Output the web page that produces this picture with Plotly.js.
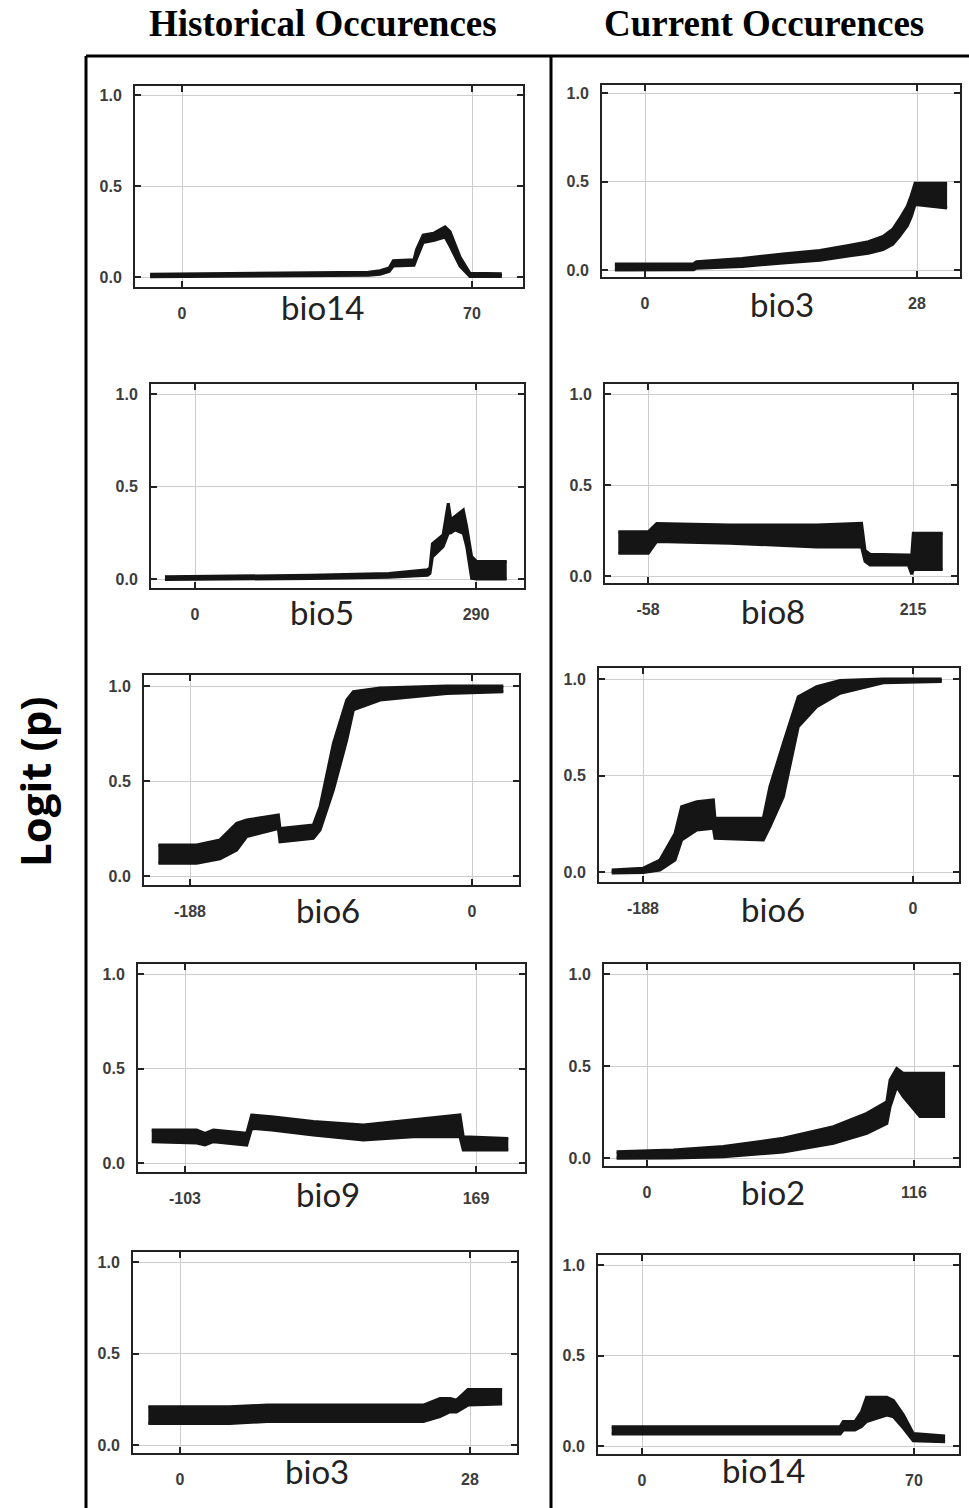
<!DOCTYPE html>
<html>
<head>
<meta charset="utf-8">
<script src="https://cdn.plot.ly/plotly-3.0.1.min.js"></script>
<style>html,body{margin:0;padding:0;background:#fff;}#chart{width:969px;height:1508px;}</style>
</head>
<body>
<div id="chart"></div>
<script>
// ---------- data ----------
const columnTitles = ["Historical Occurences", "Current Occurences"];
const yAxisTitle = "Logit (p)";
const yTicks = [0, 0.5, 1];
const yTickText = ["0.0", "0.5", "1.0"];

// Historical, row 1: bio14
const histBio14X  = [-7.7, 10, 30, 45, 47.8, 50, 51, 56, 56.6, 58.2, 60.7, 63.5, 64.7, 67.1, 69.5, 77.2];
const histBio14Lo = [0.002, 0.004, 0.007, 0.01, 0.015, 0.03, 0.06, 0.065, 0.1, 0.19, 0.2, 0.22, 0.17, 0.06, 0.003, 0.003];
const histBio14Hi = [0.015, 0.018, 0.022, 0.026, 0.035, 0.05, 0.09, 0.095, 0.15, 0.23, 0.24, 0.275, 0.25, 0.11, 0.02, 0.018];
// Current, row 1: bio3
const curBio3X  = [-3.1, 5, 5.3, 10, 14.2, 18, 21.1, 23, 24.5, 25.5, 26.2, 27, 27.4, 27.8, 31.1];
const curBio3Lo = [0.0, 0.002, 0.01, 0.02, 0.04, 0.055, 0.08, 0.095, 0.115, 0.145, 0.19, 0.25, 0.3, 0.37, 0.35];
const curBio3Hi = [0.034, 0.036, 0.047, 0.065, 0.09, 0.11, 0.14, 0.16, 0.19, 0.23, 0.287, 0.36, 0.42, 0.49, 0.49];
// Historical, row 2: bio5
const histBio5X  = [-31, 50, 120, 200, 240, 242.5, 245, 256, 261.4, 264, 268.3, 276.9, 280.4, 285.5, 290.7, 321.7];
const histBio5Lo = [-0.003, 0.0, 0.003, 0.01, 0.02, 0.03, 0.12, 0.175, 0.247, 0.25, 0.265, 0.247, 0.175, 0.003, 0.0, 0.0];
const histBio5Hi = [0.012, 0.015, 0.02, 0.03, 0.05, 0.06, 0.19, 0.238, 0.41, 0.32, 0.337, 0.373, 0.283, 0.121, 0.094, 0.094];
// Current, row 2: bio8
const curBio8X  = [-88.6, -57.7, -49, 26.5, 115.8, 162, 165.6, 170.7, 210.2, 213.7, 215.3, 245.6];
const curBio8Lo = [0.125, 0.125, 0.19, 0.18, 0.16, 0.16, 0.08, 0.06, 0.06, 0.01, 0.036, 0.036];
const curBio8Hi = [0.243, 0.243, 0.289, 0.28, 0.28, 0.289, 0.14, 0.12, 0.115, 0.115, 0.235, 0.235];
// Historical, row 3: bio6
const histBio6X  = [-209.1, -183.6, -168, -156.9, -150.2, -129.1, -128, -105.8, -101.3, -92.4, -83.5, -79.1, -61.3, -39.1, -16.9, 20.9];
const histBio6Lo = [0.067, 0.067, 0.09, 0.137, 0.207, 0.25, 0.18, 0.198, 0.242, 0.453, 0.716, 0.874, 0.926, 0.944, 0.961, 0.97];
const histBio6Hi = [0.163, 0.163, 0.19, 0.277, 0.295, 0.321, 0.25, 0.268, 0.365, 0.698, 0.926, 0.97, 0.99, 0.995, 1.0, 1.0];
// Current, row 3: bio6
const curBio6X  = [-209.8, -187.8, -176.2, -165.7, -161.1, -150.6, -139, -137.9, -104.2, -99.6, -90.3, -79.9, -67.1, -50.8, -20.7, 20];
const curBio6Lo = [-0.005, -0.002, 0.01, 0.062, 0.166, 0.218, 0.227, 0.175, 0.166, 0.235, 0.39, 0.753, 0.856, 0.926, 0.98, 0.987];
const curBio6Hi = [0.01, 0.02, 0.062, 0.2, 0.339, 0.364, 0.373, 0.279, 0.279, 0.443, 0.666, 0.908, 0.96, 0.992, 1.0, 1.0];
// Historical, row 4: bio9
const histBio9X  = [-134.1, -92.1, -84.3, -76.5, -45.3, -40.7, -22, 16.9, 63.7, 110.4, 154, 157.1, 199.2];
const histBio9Lo = [0.113, 0.106, 0.095, 0.113, 0.095, 0.183, 0.175, 0.148, 0.122, 0.139, 0.139, 0.069, 0.069];
const histBio9Hi = [0.175, 0.175, 0.157, 0.175, 0.157, 0.254, 0.245, 0.219, 0.201, 0.228, 0.254, 0.139, 0.13];
// Current, row 4: bio2
const curBio2X  = [-13.2, 11.4, 33.2, 59.2, 81, 95.5, 104.2, 105.6, 108.5, 111.4, 118.6, 129.5];
const curBio2Lo = [-0.002, 0.0, 0.007, 0.033, 0.08, 0.134, 0.188, 0.279, 0.388, 0.333, 0.225, 0.225];
const curBio2Hi = [0.034, 0.043, 0.062, 0.107, 0.17, 0.243, 0.306, 0.424, 0.487, 0.46, 0.46, 0.46];
// Historical, row 5: bio3
const histBio3X  = [-3.06, 4.8, 8.4, 23.5, 25.1, 26.1, 26.7, 27.8, 31.1];
const histBio3Lo = [0.118, 0.118, 0.128, 0.128, 0.155, 0.182, 0.18, 0.218, 0.224];
const histBio3Hi = [0.209, 0.209, 0.218, 0.218, 0.254, 0.254, 0.245, 0.303, 0.303];
// Current, row 5: bio14
const curBio14X  = [-7.8, 51, 51.8, 54.8, 56.5, 57.8, 63, 64.7, 67.3, 69.8, 78];
const curBio14Lo = [0.066, 0.066, 0.088, 0.088, 0.107, 0.135, 0.171, 0.162, 0.098, 0.029, 0.024];
const curBio14Hi = [0.107, 0.107, 0.135, 0.135, 0.19, 0.27, 0.27, 0.252, 0.171, 0.069, 0.055];

const panelNames = ["bio14", "bio3", "bio5", "bio8", "bio6", "bio6", "bio9", "bio2", "bio3", "bio14"];
const panelXTicks = [[0, 70], [0, 28], [0, 290], [-58, 215], [-188, 0], [-188, 0], [-103, 169], [0, 116], [0, 28], [0, 70]];
const panelXTickText = [["0","70"], ["0","28"], ["0","290"], ["-58","215"], ["-188","0"], ["-188","0"], ["-103","169"], ["0","116"], ["0","28"], ["0","70"]];
const panelSeries = [
  [histBio14X, histBio14Lo, histBio14Hi], [curBio3X, curBio3Lo, curBio3Hi],
  [histBio5X, histBio5Lo, histBio5Hi],   [curBio8X, curBio8Lo, curBio8Hi],
  [histBio6X, histBio6Lo, histBio6Hi],   [curBio6X, curBio6Lo, curBio6Hi],
  [histBio9X, histBio9Lo, histBio9Hi],   [curBio2X, curBio2Lo, curBio2Hi],
  [histBio3X, histBio3Lo, histBio3Hi],   [curBio14X, curBio14Lo, curBio14Hi]
];

// ---------- layout geometry (pixels) ----------
const W = 969, H = 1508;
const geom = [
  {box:[135,523,86,287],  xp:[182,472], yp:[277,95],   lab:[322,307]},
  {box:[602,960,85,277],  xp:[645,917], yp:[270,93],   lab:[782,304]},
  {box:[151,524,384,588], xp:[195,476], yp:[579,394],  lab:[322,612]},
  {box:[605,957,384,583], xp:[648,913], yp:[576,394],  lab:[773,611]},
  {box:[144,519,675,885], xp:[190,472], yp:[876,686],  lab:[328,910]},
  {box:[599,959,668,882], xp:[643,913], yp:[872,679],  lab:[773,909]},
  {box:[138,525,964,1172],xp:[185,476], yp:[1163,974], lab:[328,1194]},
  {box:[604,959,964,1166],xp:[647,914], yp:[1158,974], lab:[773,1192]},
  {box:[133,517,1252,1453],xp:[180,470],yp:[1445,1262],lab:[317,1471]},
  {box:[598,959,1255,1454],xp:[642,914],yp:[1446,1265],lab:[763,1470]}
];

const traces = [];
const layout = {
  width: W, height: H,
  margin: {l:0, r:0, t:0, b:0},
  paper_bgcolor: '#fff', plot_bgcolor: '#fff',
  showlegend: false,
  shapes: [], annotations: []
};

const tickFont = {family: "'Liberation Sans',Arial,sans-serif", size: 16, color: '#3c3c3c', weight: 'bold'};

geom.forEach((g, i) => {
  const n = i + 1;
  const xa = 'xaxis' + (n === 1 ? '' : n), ya = 'yaxis' + (n === 1 ? '' : n);
  const xr = 'x' + (n === 1 ? '' : n), yr = 'y' + (n === 1 ? '' : n);
  const [t0, t1] = panelXTicks[i];
  const sx = (t1 - t0) / (g.xp[1] - g.xp[0]);
  const xRange = [t0 + (g.box[0] - g.xp[0]) * sx, t0 + (g.box[1] - g.xp[0]) * sx];
  const sy = 1 / (g.yp[0] - g.yp[1]);
  const yRange = [(g.yp[0] - g.box[3]) * sy, (g.yp[0] - g.box[2]) * sy];
  const common = {
    showgrid: true, gridcolor: '#cdcdcd', gridwidth: 1, zeroline: false,
    showline: true, linecolor: '#222', linewidth: 2, mirror: 'ticks',
    ticks: 'inside', ticklen: 6, tickwidth: 2, tickcolor: '#222',
    tickfont: tickFont, fixedrange: true
  };
  layout[xa] = Object.assign({}, common, {
    domain: [g.box[0] / W, g.box[1] / W], anchor: yr, range: xRange,
    tickmode: 'array', tickvals: panelXTicks[i], ticktext: panelXTickText[i],
    ticklabelstandoff: 11
  });
  layout[ya] = Object.assign({}, common, {
    domain: [1 - g.box[3] / H, 1 - g.box[2] / H], anchor: xr, range: yRange,
    tickmode: 'array', tickvals: yTicks, ticktext: yTickText,
    ticklabelstandoff: 8
  });
  const [xs, lo, hi] = panelSeries[i];
  traces.push({x: xs, y: lo, xaxis: xr, yaxis: yr, mode: 'lines', type: 'scatter',
    line: {color: '#151515', width: 3}, hoverinfo: 'skip'});
  traces.push({x: xs, y: hi, xaxis: xr, yaxis: yr, mode: 'lines', type: 'scatter',
    fill: 'tonexty', fillcolor: '#151515', line: {color: '#151515', width: 3}, hoverinfo: 'skip'});
  layout.annotations.push({
    text: panelNames[i], xref: 'paper', yref: 'paper',
    x: g.lab[0] / W, y: 1 - g.lab[1] / H, xanchor: 'center', yanchor: 'middle',
    showarrow: false, font: {family: 'Lato, "Open Sans", sans-serif', size: 33, color: '#222'}
  });
});

// column titles and y-axis title
const titleFont = {family: '"Liberation Serif", "Times New Roman", serif', size: 37, color: '#000'};
layout.annotations.push({text: '<b>' + columnTitles[0] + '</b>', xref: 'paper', yref: 'paper',
  x: 323 / W, y: 1 - 24 / H, xanchor: 'center', yanchor: 'middle', showarrow: false, font: titleFont});
layout.annotations.push({text: '<b>' + columnTitles[1] + '</b>', xref: 'paper', yref: 'paper',
  x: 764 / W, y: 1 - 24 / H, xanchor: 'center', yanchor: 'middle', showarrow: false, font: titleFont});
layout.annotations.push({text: '<b>' + yAxisTitle + '</b>', xref: 'paper', yref: 'paper',
  x: 34 / W, y: 1 - 782 / H, xanchor: 'center', yanchor: 'middle', showarrow: false, textangle: -90,
  font: {family: '"Open Sans", sans-serif', size: 42, color: '#000'}});

// outer frame lines
const frameLine = {color: '#000', width: 3};
layout.shapes.push({type: 'line', xref: 'paper', yref: 'paper', x0: 86 / W, x1: 1, y0: 1 - 56 / H, y1: 1 - 56 / H, line: frameLine});
layout.shapes.push({type: 'line', xref: 'paper', yref: 'paper', x0: 86 / W, x1: 86 / W, y0: 1 - 56 / H, y1: 0, line: frameLine});
layout.shapes.push({type: 'line', xref: 'paper', yref: 'paper', x0: 551 / W, x1: 551 / W, y0: 1 - 56 / H, y1: 0, line: frameLine});

Plotly.newPlot('chart', traces, layout, {staticPlot: true, displayModeBar: false});
</script>
</body>
</html>
